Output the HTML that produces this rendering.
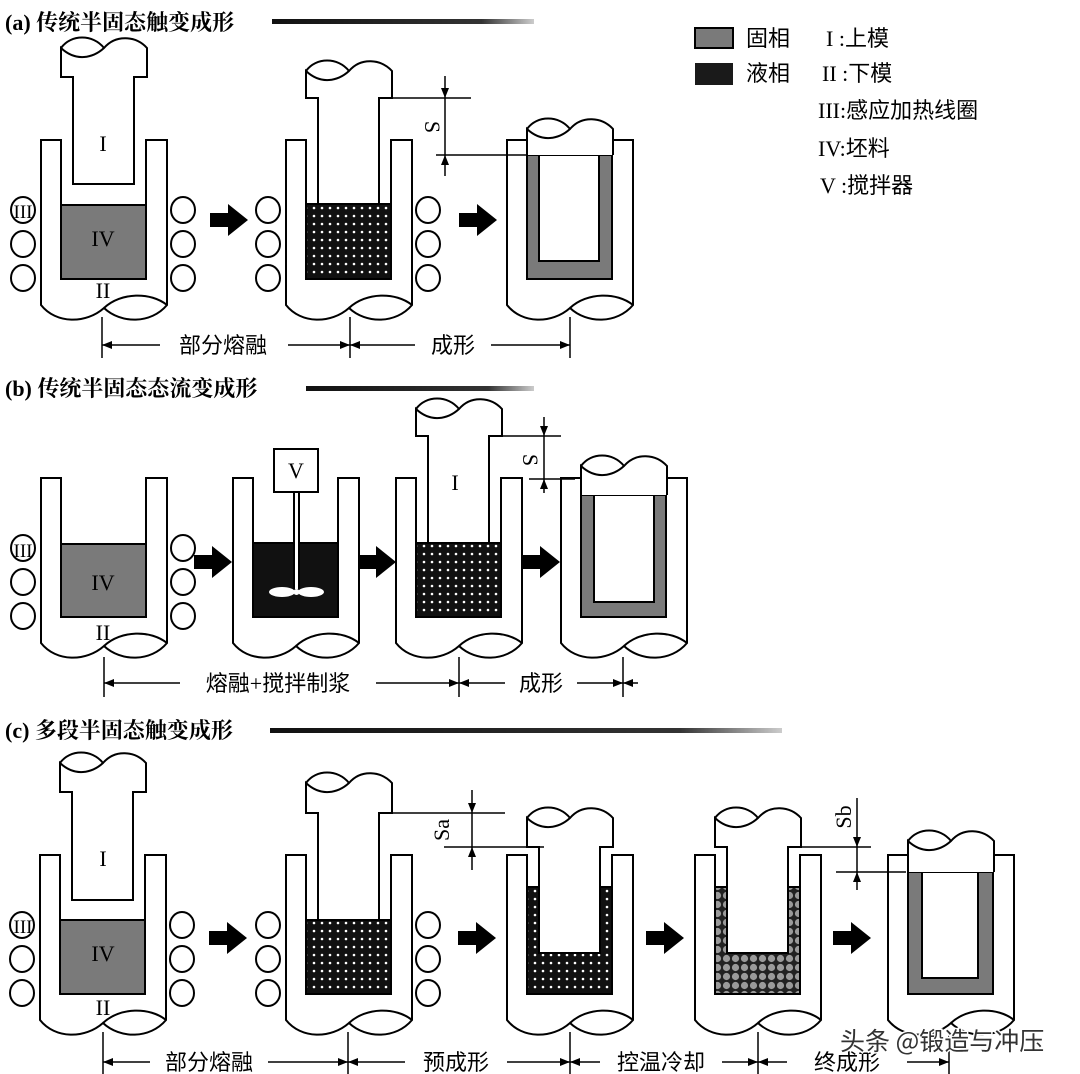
<!DOCTYPE html>
<html><head><meta charset="utf-8"><style>
html,body{margin:0;padding:0;background:#fff}
svg{display:block}
.t{font-family:"Liberation Serif","Noto Serif CJK SC",serif;font-weight:bold;font-size:22px}
.d{font-family:"Liberation Serif","Noto Sans CJK SC",sans-serif;font-size:22px}
.r{font-family:"Liberation Serif",serif;font-size:22px}
</style></head><body>
<svg width="1080" height="1074" viewBox="0 0 1080 1074" xmlns="http://www.w3.org/2000/svg">
<defs>
<linearGradient id="lg" x1="0" x2="1"><stop offset="0" stop-color="#111"/><stop offset="0.8" stop-color="#333"/><stop offset="1" stop-color="#ccc"/></linearGradient>
<pattern id="dots" width="8" height="8" patternUnits="userSpaceOnUse"><rect width="8" height="8" fill="#111"/><circle cx="4" cy="4" r="1.3" fill="#fff"/></pattern>
<pattern id="gran" width="9" height="9" patternUnits="userSpaceOnUse"><rect width="9" height="9" fill="#222"/><circle cx="4.5" cy="4.5" r="3.6" fill="#9a9a9a"/></pattern>
<marker id="ah" markerWidth="10" markerHeight="8" refX="10" refY="4" orient="auto-start-reverse" markerUnits="userSpaceOnUse"><path d="M0,0 L10,4 L0,8 Z" fill="#000"/></marker>
<g id="die" stroke="#000" stroke-width="2">
<path fill="#fff" d="M0,0 H20 V139 H105 V0 H126 V165 C110,184 80,184 63,168 C45,184 15,184 0,165 Z"/>
<path fill="none" d="M63,168 C80,152 110,152 126,165"/>
</g>
<g id="coils" fill="#fff" stroke="#000" stroke-width="2">
<ellipse cx="-18" cy="70" rx="12" ry="13"/><ellipse cx="-18" cy="104" rx="12" ry="13"/><ellipse cx="-18" cy="138" rx="12" ry="13"/>
<ellipse cx="142" cy="70" rx="12" ry="13"/><ellipse cx="142" cy="104" rx="12" ry="13"/><ellipse cx="142" cy="138" rx="12" ry="13"/>
</g>
<path id="arr" d="M0,-7 H18 V-16 L38,0 L18,16 V7 H0 Z" fill="#000"/>
</defs>

<text class="t" x="5" y="30">(a) 传统半固态触变成形</text>
<rect x="272" y="19" width="262" height="5" fill="url(#lg)"/>
<text class="t" x="5" y="396">(b) 传统半固态态流变成形</text>
<rect x="306" y="386" width="228" height="5" fill="url(#lg)"/>
<text class="t" x="5" y="738">(c) 多段半固态触变成形</text>
<rect x="270" y="728" width="512" height="5" fill="url(#lg)"/>

<rect x="695" y="28" width="38" height="20" fill="#7a7a7a" stroke="#000" stroke-width="2"/>
<rect x="695" y="63" width="38" height="22" fill="#1a1a1a"/>
<g class="d">
<text x="746" y="46">固相</text><text x="746" y="81">液相</text>
<text x="826" y="46">I :上模</text>
<text x="822" y="81">II :下模</text>
<text x="818" y="118">III:感应加热线圈</text>
<text x="818" y="156">IV:坯料</text>
<text x="820" y="193">V :搅拌器</text>
</g>

<g stroke="#000" stroke-width="2" fill="#fff">
<g transform="translate(41,140)">
<use href="#die"/><use href="#coils"/>
<rect x="20" y="65" width="85" height="74" fill="#7a7a7a"/>
<path d="M32,44 V-63 H20 V-92 C35,-78 52,-82 63,-92 C75,-106 95,-104 106,-92 V-63 H93 V44 Z"/>
<path fill="none" d="M20,-92 C30,-106 52,-106 63,-92"/>
</g>
<g transform="translate(286,140)">
<use href="#die"/><use href="#coils"/>
<rect x="20" y="64" width="85" height="75" fill="url(#dots)"/>
<path d="M32,64 V-42 H20 V-69 C35,-55 52,-59 63,-69 C75,-83 95,-81 106,-69 V-42 H93 V64 Z"/>
<path fill="none" d="M20,-69 C30,-83 52,-83 63,-69"/>
</g>
<g transform="translate(507,140)">
<use href="#die"/>
<rect x="20" y="15" width="85" height="124" fill="#7a7a7a"/>
<rect x="32" y="15" width="60" height="106"/>
<path d="M20,15 V-11 C35,3 52,-1 63,-11 C75,-25 95,-23 106,-11 V15"/>
<path fill="none" d="M20,-11 C30,-25 52,-25 63,-11"/>
</g>

<g transform="translate(41,478)">
<use href="#die"/><use href="#coils"/>
<rect x="20" y="66" width="85" height="73" fill="#7a7a7a"/>
</g>
<g transform="translate(233,478)">
<use href="#die"/>
<rect x="20" y="65" width="85" height="74" fill="#111"/>
<rect x="61" y="14" width="5" height="98" fill="#fff"/>
<ellipse cx="49" cy="114" rx="13" ry="5" stroke="none"/>
<ellipse cx="78" cy="114" rx="13" ry="5" stroke="none"/>
<circle cx="63.5" cy="114" r="3" stroke="none"/>
<rect x="41" y="-29" width="44" height="43"/>
</g>
<g transform="translate(396,478)">
<use href="#die"/>
<rect x="20" y="65" width="85" height="74" fill="url(#dots)"/>
<path d="M32,65 V-42 H20 V-69 C35,-55 52,-59 63,-69 C75,-83 95,-81 106,-69 V-42 H93 V65 Z"/>
<path fill="none" d="M20,-69 C30,-83 52,-83 63,-69"/>
</g>
<g transform="translate(561,478)">
<use href="#die"/>
<rect x="20" y="17" width="85" height="122" fill="#7a7a7a"/>
<rect x="33" y="17" width="60" height="107"/>
<path d="M20,17 V-12 C35,2 52,-2 63,-12 C75,-26 95,-24 106,-12 V17"/>
<path fill="none" d="M20,-12 C30,-26 52,-26 63,-12"/>
</g>

<g transform="translate(40,855)">
<use href="#die"/><use href="#coils"/>
<rect x="20" y="65" width="85" height="74" fill="#7a7a7a"/>
<path d="M32,45 V-63 H20 V-92 C35,-78 52,-82 63,-92 C75,-106 95,-104 106,-92 V-63 H93 V45 Z"/>
<path fill="none" d="M20,-92 C30,-106 52,-106 63,-92"/>
</g>
<g transform="translate(286,855)">
<use href="#die"/><use href="#coils"/>
<rect x="20" y="65" width="85" height="74" fill="url(#dots)"/>
<path d="M32,65 V-42 H20 V-72 C35,-58 52,-62 63,-72 C75,-86 95,-84 106,-72 V-42 H93 V65 Z"/>
<path fill="none" d="M20,-72 C30,-86 52,-86 63,-72"/>
</g>
<g transform="translate(507,855)">
<use href="#die"/>
<rect x="20" y="32" width="85" height="107" fill="url(#dots)"/>
<path d="M32,98 V-8 H20 V-37 C35,-23 52,-27 63,-37 C75,-51 95,-49 106,-37 V-8 H93 V98 Z"/>
<path fill="none" d="M20,-37 C30,-51 52,-51 63,-37"/>
</g>
<g transform="translate(695,855)">
<use href="#die"/>
<rect x="20" y="32" width="85" height="107" fill="url(#gran)"/>
<path d="M32,98 V-8 H20 V-37 C35,-23 52,-27 63,-37 C75,-51 95,-49 106,-37 V-8 H93 V98 Z"/>
<path fill="none" d="M20,-37 C30,-51 52,-51 63,-37"/>
</g>
<g transform="translate(888,855)">
<use href="#die"/>
<rect x="20" y="17" width="85" height="122" fill="#7a7a7a"/>
<rect x="34" y="17" width="56" height="106"/>
<path d="M20,17 V-14 C35,0 52,-4 63,-14 C75,-28 95,-26 106,-14 V17"/>
<path fill="none" d="M20,-14 C30,-28 52,-28 63,-14"/>
</g>
</g>

<g class="r" text-anchor="middle">
<text x="103" y="151">I</text><text x="103" y="246">IV</text><text x="103" y="298">II</text><text x="23" y="218" font-size="19">III</text>
<text x="103" y="590">IV</text><text x="103" y="640">II</text><text x="23" y="557" font-size="19">III</text>
<text x="296" y="478">V</text><text x="455" y="490">I</text>
<text x="103" y="866">I</text><text x="103" y="961">IV</text><text x="103" y="1015">II</text><text x="23" y="933" font-size="19">III</text>
</g>

<use href="#arr" x="210" y="220"/><use href="#arr" x="459" y="220"/>
<use href="#arr" x="194" y="562"/><use href="#arr" x="358" y="562"/><use href="#arr" x="522" y="562"/>
<use href="#arr" x="209" y="938"/><use href="#arr" x="458" y="938"/><use href="#arr" x="646" y="938"/><use href="#arr" x="833" y="938"/>

<g stroke="#000" stroke-width="1.5" fill="none">
<line x1="392" y1="98" x2="471" y2="98"/><line x1="436" y1="155" x2="527" y2="155"/>
<line x1="445" y1="76" x2="445" y2="98" marker-end="url(#ah)"/><line x1="445" y1="98" x2="445" y2="155"/><line x1="445" y1="176" x2="445" y2="155" marker-end="url(#ah)"/>
<line x1="502" y1="436" x2="561" y2="436"/><line x1="529" y1="479" x2="575" y2="479"/>
<line x1="544" y1="417" x2="544" y2="436" marker-end="url(#ah)"/><line x1="544" y1="436" x2="544" y2="479"/><line x1="544" y1="493" x2="544" y2="479" marker-end="url(#ah)"/>
<line x1="392" y1="813" x2="505" y2="813"/><line x1="444" y1="847" x2="544" y2="847"/>
<line x1="472" y1="790" x2="472" y2="813" marker-end="url(#ah)"/><line x1="472" y1="813" x2="472" y2="847"/><line x1="472" y1="870" x2="472" y2="847" marker-end="url(#ah)"/>
<line x1="801" y1="847" x2="871" y2="847"/><line x1="836" y1="872" x2="906" y2="872"/>
<line x1="857" y1="798" x2="857" y2="847" marker-end="url(#ah)"/><line x1="857" y1="847" x2="857" y2="872"/><line x1="857" y1="890" x2="857" y2="872" marker-end="url(#ah)"/>
</g>
<g class="r">
<text transform="translate(425,127) rotate(90)" text-anchor="middle">S</text>
<text transform="translate(523,460) rotate(90)" text-anchor="middle">S</text>
<text transform="translate(449,830) rotate(-90)" text-anchor="middle">Sa</text>
<text transform="translate(851,817) rotate(-90)" text-anchor="middle">Sb</text>
</g>

<g stroke="#000" stroke-width="1.5">
<line x1="102" y1="317" x2="102" y2="358"/><line x1="350" y1="317" x2="350" y2="358"/><line x1="570" y1="317" x2="570" y2="358"/>
<line x1="102" y1="345" x2="350" y2="345" marker-start="url(#ah)" marker-end="url(#ah)"/>
<line x1="350" y1="345" x2="570" y2="345" marker-start="url(#ah)" marker-end="url(#ah)"/>
<line x1="104" y1="657" x2="104" y2="697"/><line x1="459" y1="657" x2="459" y2="697"/><line x1="623" y1="657" x2="623" y2="697"/>
<line x1="104" y1="683" x2="459" y2="683" marker-start="url(#ah)" marker-end="url(#ah)"/>
<line x1="459" y1="683" x2="623" y2="683" marker-start="url(#ah)" marker-end="url(#ah)"/>
<line x1="638" y1="683" x2="623" y2="683" marker-end="url(#ah)"/>
<line x1="103" y1="1032" x2="103" y2="1074"/><line x1="348" y1="1032" x2="348" y2="1074"/><line x1="570" y1="1032" x2="570" y2="1074"/><line x1="758" y1="1032" x2="758" y2="1074"/><line x1="949" y1="1032" x2="949" y2="1074"/>
<line x1="103" y1="1062" x2="348" y2="1062" marker-start="url(#ah)" marker-end="url(#ah)"/>
<line x1="348" y1="1062" x2="570" y2="1062" marker-start="url(#ah)" marker-end="url(#ah)"/>
<line x1="570" y1="1062" x2="758" y2="1062" marker-start="url(#ah)" marker-end="url(#ah)"/>
<line x1="758" y1="1062" x2="949" y2="1062" marker-start="url(#ah)" marker-end="url(#ah)"/>
</g>
<g fill="#fff">
<rect x="160" y="330" width="128" height="30"/><rect x="415" y="330" width="76" height="30"/>
<rect x="180" y="668" width="196" height="30"/><rect x="505" y="668" width="72" height="30"/>
<rect x="150" y="1047" width="118" height="27"/><rect x="405" y="1047" width="102" height="27"/><rect x="600" y="1047" width="122" height="27"/><rect x="787" y="1047" width="120" height="27"/>
</g>
<g class="d" text-anchor="middle">
<text x="223" y="353">部分熔融</text><text x="453" y="353">成形</text>
<text x="278" y="691">熔融+搅拌制浆</text><text x="541" y="691">成形</text>
<text x="209" y="1070">部分熔融</text><text x="456" y="1070">预成形</text><text x="661" y="1070">控温冷却</text><text x="847" y="1070">终成形</text>
</g>
<text x="840" y="1050" font-family="'Noto Sans CJK SC',sans-serif" font-size="25" fill="#333" stroke="#fff" stroke-width="3" paint-order="stroke">头条 @锻造与冲压</text>
</svg>
</body></html>
